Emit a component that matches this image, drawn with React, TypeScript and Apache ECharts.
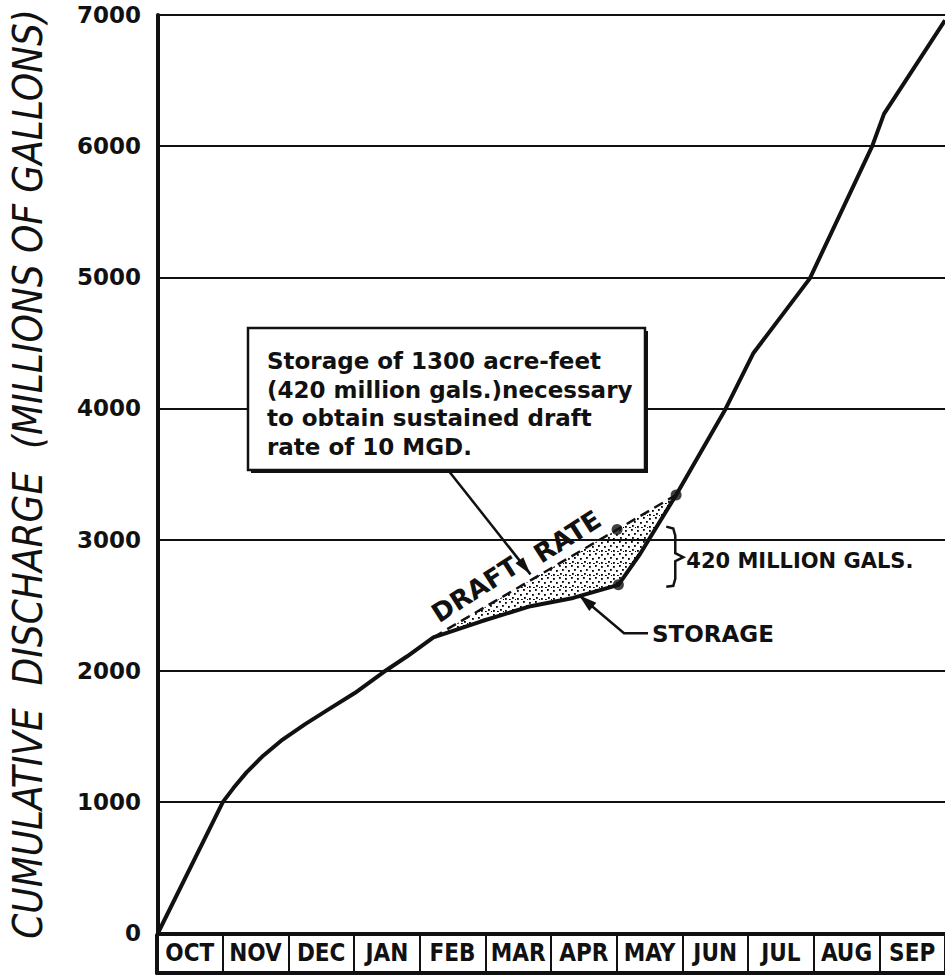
import React, { useEffect, useRef } from "react";
import * as echarts from "echarts";

// ---- data ----
const months = ["OCT", "NOV", "DEC", "JAN", "FEB", "MAR", "APR", "MAY", "JUN", "JUL", "AUG", "SEP"];
const yMin = 0;
const yMax = 7000;
const yInterval = 1000;

// cumulative discharge curve (month index from Oct 1, millions of gallons)
const curveMonth = [0, 0.99, 1.15, 1.35, 1.6, 1.9, 2.25, 2.6, 3.0, 3.44, 3.8, 4.2, 4.92, 5.68, 6.33, 7.02, 7.35, 7.9, 8.65, 9.08, 9.94, 10.89, 11.07, 12];
const curveValue = [0, 1000, 1105, 1225, 1350, 1475, 1595, 1705, 1830, 1990, 2110, 2255, 2375, 2492, 2555, 2655, 2890, 3340, 3992, 4423, 4992, 6000, 6246, 6960];

// draft rate line (10 MGD)
const draftMonth = [4.2, 7.9];
const draftValue = [2255, 3340];

// storage markers (420 million gals between them)
const dotMonth = [7.0, 7.02, 7.9];
const dotValue = [3076, 2655, 3340];

const boxLines = [
  "Storage of 1300 acre-feet",
  "(420 million gals.)necessary",
  "to obtain sustained draft",
  "rate of 10 MGD.",
];

const BLACK = "#111";

function makePattern() {
  const c = document.createElement("canvas");
  c.width = 12;
  c.height = 12;
  const g = c.getContext("2d");
  if (g) {
    g.fillStyle = "#000";
    const spots = [[1, 2], [7, 1], [10, 5], [4, 6], [8, 9], [1, 10], [5, 11], [11, 11]];
    spots.forEach(([x, y]) => g.fillRect(x, y, 1.8, 1.8));
  }
  return { image: c, repeat: "repeat" };
}

export default function App() {
  const ref = useRef<HTMLDivElement>(null);

  useEffect(() => {
    if (!ref.current) return;
    const chart = echarts.init(ref.current, null, { renderer: "svg" });

    const curve = curveMonth.map((m, i) => [m, curveValue[i]]);
    const draft = draftMonth.map((m, i) => [m, draftValue[i]]);
    const dots = dotMonth.map((m, i) => [m, dotValue[i]]);

    const lo = draftMonth[0];
    const hi = draftMonth[draftMonth.length - 1];
    const bottom = curve.filter((p) => p[0] > lo && p[0] < hi).reverse();
    const fillPoly = [...draft, ...bottom];
    const pattern = makePattern();

    chart.setOption({
      animation: false,
      backgroundColor: "#fff",
      grid: [
        { left: 157, top: 15, width: 790, height: 918 },
        { left: 157, top: 935, width: 790, height: 38, show: true, borderColor: BLACK, borderWidth: 2 },
      ],
      xAxis: [
        {
          gridIndex: 0, type: "value", min: 0, max: 12,
          axisLine: { show: false }, axisTick: { show: false }, axisLabel: { show: false }, splitLine: { show: false },
        },
        {
          gridIndex: 1, type: "category", data: months, boundaryGap: true, position: "bottom",
          axisLine: { show: true, lineStyle: { color: BLACK, width: 4 } },
          axisTick: { show: false },
          splitLine: { show: true, interval: 0, lineStyle: { color: BLACK, width: 2 } },
          axisLabel: {
            interval: 0, margin: -32, color: BLACK, fontSize: 24, fontWeight: "bold",
            fontFamily: "'DejaVu Sans Condensed', 'Liberation Sans Narrow', sans-serif",
          },
        },
      ],
      yAxis: [
        {
          gridIndex: 0, type: "value", min: yMin, max: yMax, interval: yInterval,
          axisLine: { show: true, lineStyle: { color: BLACK, width: 4 } },
          axisTick: { show: false },
          splitLine: { show: true, lineStyle: { color: BLACK, width: 2 } },
          axisLabel: {
            color: BLACK, fontSize: 23, fontWeight: "bold", fontFamily: "'DejaVu Sans', sans-serif", margin: 17,
            formatter: (v: number) => String(v),
          },
          name: "CUMULATIVE  DISCHARGE  (MILLIONS OF GALLONS)",
          nameLocation: "middle",
          nameGap: 110,
          nameTextStyle: {
            color: BLACK, fontSize: 40, fontStyle: "italic", fontWeight: "normal",
            fontFamily: "'DejaVu Sans Condensed', 'DejaVu Sans', sans-serif",
          },
        },
        {
          gridIndex: 1, type: "value", min: 0, max: 1,
          axisLine: { show: true, lineStyle: { color: BLACK, width: 4 } },
          axisTick: { show: false }, axisLabel: { show: false }, splitLine: { show: false },
        },
      ],
      series: [
        {
          type: "custom", xAxisIndex: 0, yAxisIndex: 0, z: 2, silent: true,
          data: [[0]],
          renderItem: (_params: any, api: any) => ({
            type: "polygon",
            shape: { points: fillPoly.map((p) => api.coord(p)) },
            style: { fill: pattern as any, stroke: null },
          }),
        },
        {
          type: "line", xAxisIndex: 0, yAxisIndex: 0, z: 5, data: curve, symbol: "none",
          lineStyle: { color: BLACK, width: 4 },
        },
        {
          type: "line", xAxisIndex: 0, yAxisIndex: 0, z: 4, data: draft, symbol: "none",
          lineStyle: { color: BLACK, width: 2.5, type: [10, 6] },
        },
        {
          type: "scatter", xAxisIndex: 0, yAxisIndex: 0, z: 6, data: dots, symbolSize: 11,
          itemStyle: { color: BLACK },
        },
      ],
    });

    const px = (m: number, v: number) => chart.convertToPixel({ xAxisIndex: 0, yAxisIndex: 0 }, [m, v]) as number[];
    const draftAt = (m: number) => draftValue[0] + ((m - draftMonth[0]) * (draftValue[1] - draftValue[0])) / (draftMonth[1] - draftMonth[0]);
    const curveAt = (m: number) => {
      for (let i = 0; i < curveMonth.length - 1; i++) {
        if (m >= curveMonth[i] && m <= curveMonth[i + 1]) {
          const t = (m - curveMonth[i]) / (curveMonth[i + 1] - curveMonth[i]);
          return curveValue[i] + t * (curveValue[i + 1] - curveValue[i]);
        }
      }
      return 0;
    };

    const arrowHead = (from: number[], tip: number[], len = 16, half = 5) => {
      const dx = tip[0] - from[0];
      const dy = tip[1] - from[1];
      const L = Math.hypot(dx, dy);
      const ux = dx / L, uy = dy / L;
      const bx = tip[0] - ux * len, by = tip[1] - uy * len;
      return {
        type: "polygon", z: 60,
        shape: { points: [tip, [bx - uy * half, by + ux * half], [bx + uy * half, by - ux * half]] },
        style: { fill: BLACK },
      };
    };

    const p1 = px(draftMonth[0], draftValue[0]);
    const p2 = px(draftMonth[1], draftValue[1]);
    const ang = Math.atan2(-(p2[1] - p1[1]), p2[0] - p1[0]) + 0.04;
    const nx = -Math.sin(ang), ny = -Math.cos(ang);
    const labelAt = (m: number, off: number) => {
      const p = px(m, draftAt(m));
      return [p[0] + nx * off, p[1] + ny * off];
    };
    const dPos = labelAt(5.0, 20);
    const rPos = labelAt(6.4, 19);

    const BOX = { x: 248, y: 328, w: 397, h: 142 };
    const boxStart = [448, BOX.y + BOX.h];
    const boxTipM = 5.68;
    const bt = px(boxTipM, draftAt(boxTipM));
    const boxTip = [bt[0], bt[1] - 6];

    const st = px(6.42, curveAt(6.42));
    const stTip = [st[0], st[1] - 1];
    const stElbow = [stTip[0] + 45, stTip[1] + 38];
    const stEnd = [stElbow[0] + 24, stElbow[1]];

    const topY = px(dotMonth[0], dotValue[0])[1];
    const botY = px(dotMonth[1], dotValue[1])[1];
    const midY = (topY + botY) / 2;
    const bx0 = px(7.75, 0)[0];

    const textFont = "'DejaVu Sans', sans-serif";

    chart.setOption({
      graphic: [
        { type: "rect", z: 50, shape: { x: BOX.x + 3, y: BOX.y + 3, width: BOX.w, height: BOX.h }, style: { fill: BLACK } },
        { type: "rect", z: 51, shape: { x: BOX.x, y: BOX.y, width: BOX.w, height: BOX.h }, style: { fill: "#fff", stroke: BLACK, lineWidth: 2.5 } },
        ...boxLines.map((t, i) => ({
          type: "text", z: 52, x: 267, y: 361 + i * 28.5,
          style: { text: t, fill: BLACK, font: `bold 23px ${textFont}`, textAlign: "left", textVerticalAlign: "middle" },
        })),
        { type: "line", z: 55, shape: { x1: boxStart[0], y1: boxStart[1], x2: boxTip[0], y2: boxTip[1] }, style: { stroke: BLACK, lineWidth: 2.5 } },
        arrowHead(boxStart, boxTip, 18, 5),
        {
          type: "text", z: 55, x: dPos[0], y: dPos[1], rotation: ang,
          style: { text: "DRAFT", fill: BLACK, font: `bold 26px ${textFont}`, textAlign: "center", textVerticalAlign: "middle" },
        },
        {
          type: "text", z: 55, x: rPos[0], y: rPos[1], rotation: ang,
          style: { text: "RATE", fill: BLACK, font: `bold 26px ${textFont}`, textAlign: "center", textVerticalAlign: "middle" },
        },
        {
          type: "polyline", z: 55,
          shape: { points: [stEnd, stElbow, stTip] },
          style: { stroke: BLACK, lineWidth: 2.5, fill: null },
        },
        arrowHead(stElbow, stTip, 18, 5.5),
        {
          type: "text", z: 55, x: stEnd[0] + 4, y: stEnd[1] + 1,
          style: { text: "STORAGE", fill: BLACK, font: `bold 23px ${textFont}`, textAlign: "left", textVerticalAlign: "middle" },
        },
        {
          type: "polyline", z: 55,
          shape: {
            points: [
              [bx0, topY - 3], [bx0 + 7, topY - 1], [bx0 + 9, topY + 6], [bx0 + 9, midY - 4], [bx0 + 17, midY],
              [bx0 + 9, midY + 4], [bx0 + 9, botY - 6], [bx0 + 7, botY + 1], [bx0, botY + 2],
            ],
          },
          style: { stroke: BLACK, lineWidth: 2.5, fill: null },
        },
        {
          type: "text", z: 55, x: bx0 + 20, y: midY + 4,
          style: { text: "420 MILLION GALS.", fill: BLACK, font: `bold 21px ${textFont}`, textAlign: "left", textVerticalAlign: "middle" },
        },
      ],
    });

    return () => chart.dispose();
  }, []);

  return (
    <div
      ref={ref}
      style={{ position: "absolute", left: 0, top: 0, width: 945, height: 980, background: "#fff" }}
    />
  );
}
